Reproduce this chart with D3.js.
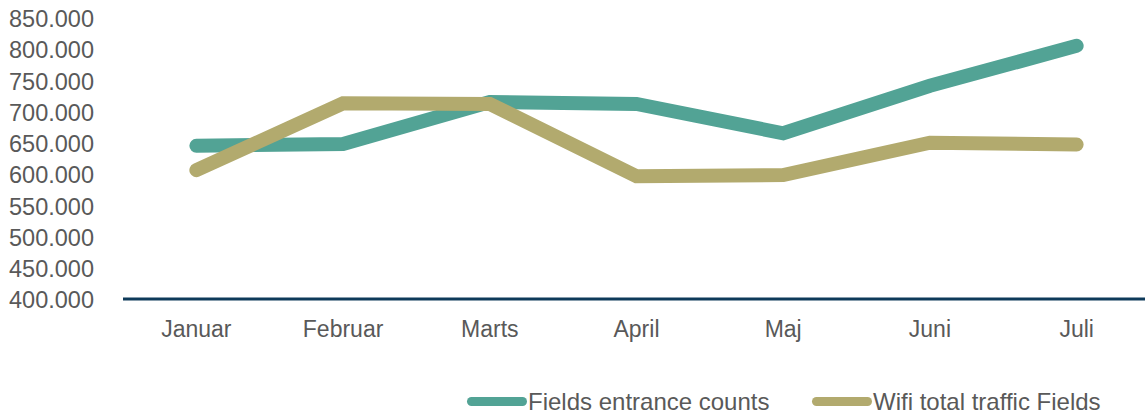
<!DOCTYPE html>
<html>
<head>
<meta charset="utf-8">
<script src="https://cdn.jsdelivr.net/npm/d3@7"></script>
<style>
  body { margin: 0; background: #fff; }
  text { font-family: "Liberation Sans", Arial, sans-serif; fill: #595959; }
</style>
</head>
<body>
<div id="chart"></div>
<script>
// Data
const months = ["Januar", "Februar", "Marts", "April", "Maj", "Juni", "Juli"];
const entranceCounts = [647000, 650000, 717000, 714000, 667000, 743000, 807000];
const wifiTraffic = [608000, 715000, 714000, 598000, 600000, 652000, 649000];
const yTicks = [400000, 450000, 500000, 550000, 600000, 650000, 700000, 750000, 800000, 850000];
const seriesNames = ["Fields entrance counts", "Wifi total traffic Fields"];
const colors = ["#52a395", "#b2aa6e"];

const W = 1145, H = 414;
const svg = d3.select("#chart").append("svg")
    .attr("width", W)
    .attr("height", H);

const x = d3.scalePoint()
    .domain(months)
    .range([123, 1150])
    .padding(0.5);

const y = d3.scaleLinear()
    .domain([400000, 850000])
    .range([300, 19]);

const fmt = d => d3.format(",")(d).replace(/,/g, ".");

// Y tick labels
svg.append("g")
    .selectAll("text")
    .data(yTicks)
    .join("text")
    .attr("x", 94)
    .attr("y", d => y(d))
    .attr("dy", "0.35em")
    .attr("text-anchor", "end")
    .style("font-size", "23.5px")
    .text(fmt);

// X axis line
svg.append("line")
    .attr("x1", 123).attr("x2", W)
    .attr("y1", y(400000) - 1).attr("y2", y(400000) - 1)
    .attr("stroke", "#0e3a5a")
    .attr("stroke-width", 3);

// X labels
svg.append("g")
    .selectAll("text")
    .data(months)
    .join("text")
    .attr("x", d => x(d))
    .attr("y", 329)
    .attr("dy", "0.35em")
    .attr("text-anchor", "middle")
    .style("font-size", "23px")
    .text(d => d);

// Lines
const line = d3.line()
    .x((d, i) => x(months[i]))
    .y(d => y(d));

[entranceCounts, wifiTraffic].forEach((s, i) => {
    svg.append("path")
        .datum(s)
        .attr("fill", "none")
        .attr("stroke", colors[i])
        .attr("stroke-width", 14)
        .attr("stroke-linecap", "round")
        .attr("stroke-linejoin", "miter")
        .attr("d", line);
});

// Legend
const legendX = [467, 812];
seriesNames.forEach((name, i) => {
    const g = svg.append("g").attr("transform", `translate(${legendX[i]},401.5)`);
    g.append("line")
        .attr("x1", 4.5).attr("x2", 55.5)
        .attr("stroke", colors[i])
        .attr("stroke-width", 9)
        .attr("stroke-linecap", "round");
    g.append("text")
        .attr("x", 61)
        .attr("dy", "0.35em")
        .style("font-size", "24px")
        .text(name);
});
</script>
</body>
</html>
